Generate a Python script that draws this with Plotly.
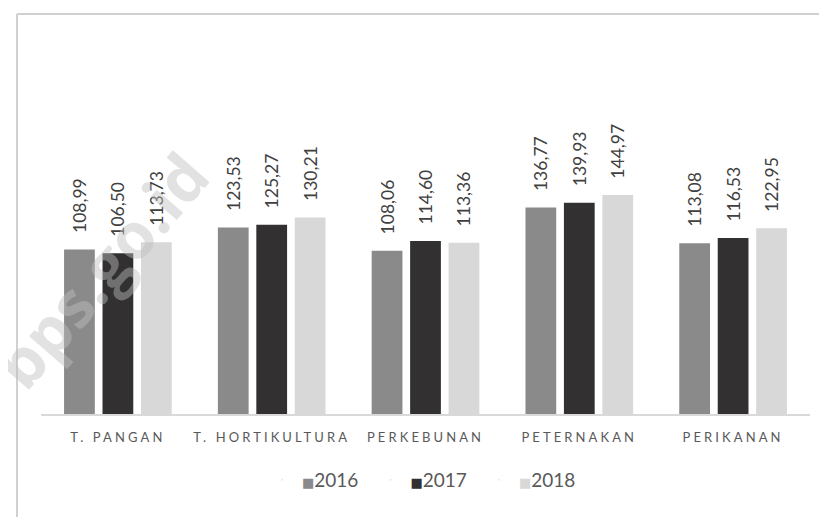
import plotly.graph_objects as go

categories = ["T. PANGAN", "T. HORTIKULTURA", "PERKEBUNAN", "PETERNAKAN", "PERIKANAN"]
years = ["2016", "2017", "2018"]
v2016 = [108.99, 123.53, 108.06, 136.77, 113.08]
v2017 = [106.50, 125.27, 114.60, 139.93, 116.53]
v2018 = [113.73, 130.21, 113.36, 144.97, 122.95]
colors = ["#8a8a8b", "#323031", "#d8d8d9"]

FONT = "Lato"
W, H = 827, 517
OFF = 8  # page body margin offset
# page-pixel targets of the plot area
PL, PR, PT, PB = 41, 810, 112, 414
ML, MT = PL - OFF, PT - OFF
MR, MB = W - (PR - OFF), H - (PB - OFF)
YMAX = 200

fig = go.Figure()
for name, vals, col in zip(years, [v2016, v2017, v2018], colors):
    fig.add_trace(go.Bar(
        x=categories, y=vals, name=name, marker=dict(color=col, line=dict(width=0)),
        text=["\u00a0" * 3 + f"{v:.2f}".replace(".", ",") for v in vals],
        textposition="outside", textangle=-90, constraintext="none", cliponaxis=False,
        textfont=dict(family=FONT, size=17.5, color="#404040"),
        showlegend=False, hoverinfo="skip",
    ))
    fig.add_trace(go.Scatter(
        x=[None], y=[None], mode="markers", marker=dict(opacity=0, size=1),
        name=f'<span style="font-family:DejaVu Sans;font-size:13px;color:{col}">\u25a0</span>{name}',
        showlegend=True,
    ))

ticktext = [f'<span style="letter-spacing:3.1px">{c}</span>' for c in categories]

pw = W - ML - MR
ph = H - MT - MB

def px_x(x):
    return (x - OFF - ML) / pw

def px_y(y):
    return (H - MB - (y - OFF)) / ph

border = dict(color="#d0d0d0", width=2)

fig.update_layout(
    width=W, height=H,
    margin=dict(l=ML, r=MR, t=MT, b=MB, autoexpand=False),
    paper_bgcolor="white", plot_bgcolor="white",
    barmode="group", bargap=0.25, bargroupgap=0.2,
    font=dict(family=FONT, color="#595959"),
    xaxis=dict(
        tickmode="array", tickvals=categories, ticktext=ticktext,
        showline=True, linecolor="#d9d9d9", linewidth=1.5,
        showgrid=False, zeroline=False, ticks="",
        tickfont=dict(family=FONT, size=13, color="#595959"),
        ticklabelstandoff=11, fixedrange=True, automargin=False,
    ),
    yaxis=dict(range=[0, YMAX], visible=False, showgrid=False, zeroline=False),
    legend=dict(
        orientation="h", x=px_x(262), xanchor="left", y=px_y(480), yanchor="middle",
        font=dict(family=FONT, size=19, color="#595959"),
        entrywidth=63.5, bgcolor="rgba(0,0,0,0)",
    ),
    shapes=[
        dict(type="line", xref="paper", yref="paper",
             x0=px_x(17), x1=px_x(845), y0=px_y(14), y1=px_y(14), line=border),
        dict(type="line", xref="paper", yref="paper",
             x0=px_x(17), x1=px_x(17), y0=px_y(14), y1=px_y(540), line=border),
    ],
    annotations=[dict(
        text="<b>bps.go.id</b>", xref="paper", yref="paper",
        x=px_x(100), y=px_y(270), xanchor="center", yanchor="middle",
        showarrow=False, textangle=-49,
        font=dict(family="Open Sans", size=64, color="rgba(190,190,190,0.45)"),
    )],
)

fig.write_html("out.html")
